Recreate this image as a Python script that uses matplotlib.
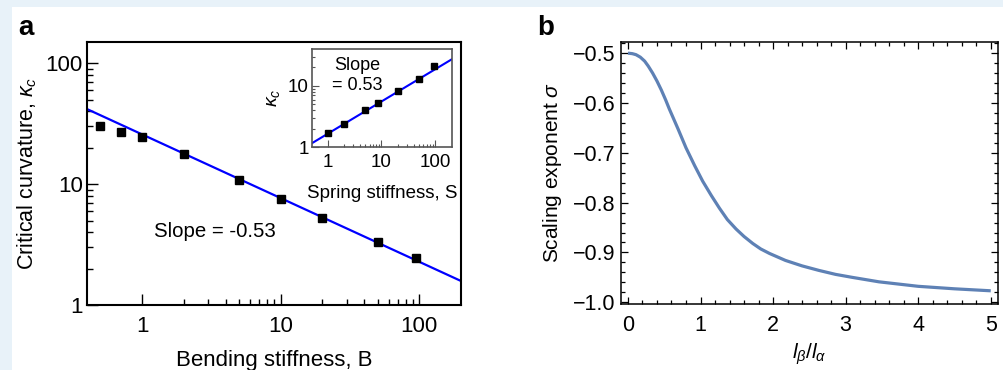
import matplotlib
matplotlib.use("Agg")
import matplotlib.pyplot as plt
from matplotlib.ticker import FixedLocator, NullFormatter, MultipleLocator, FixedFormatter
from matplotlib.patches import Rectangle

plt.rcParams['font.family'] = ['Liberation Sans', 'DejaVu Sans']
plt.rcParams['mathtext.fontset'] = 'custom'
plt.rcParams['mathtext.rm'] = 'Liberation Sans'
plt.rcParams['mathtext.it'] = 'Liberation Sans:italic'
plt.rcParams['mathtext.bf'] = 'Liberation Sans:bold'

# ---- data: panel a main ----
bend_B = [0.5, 0.7, 1, 2, 5, 10, 20, 50, 95]
bend_kc = [30.4, 27.1, 24.4, 17.8, 10.9, 7.55, 5.23, 3.33, 2.44]
fit_B = [0.4, 200]
fit_kc = [41.8, 1.58]

# ---- data: panel a inset ----
spring_S = [1, 2, 5, 8.6, 20, 50, 95]
spring_kc = [1.69, 2.37, 4.06, 5.22, 8.2, 13.2, 21.4]
fit_S = [0.5, 210]
fit_kcS = [1.16, 27.5]

# ---- data: panel b ----
ratio_l = [0, 0.06, 0.11, 0.17, 0.23, 0.28, 0.34, 0.40, 0.46, 0.52, 0.57, 0.69, 0.80,
           0.92, 1.03, 1.15, 1.26, 1.37, 1.49, 1.60, 1.72, 1.83, 1.95, 2.17, 2.40,
           2.63, 2.86, 3.09, 3.46, 4.0, 4.5, 5.0]
sigma = [-0.500, -0.501, -0.503, -0.508, -0.516, -0.526, -0.540, -0.556, -0.574,
         -0.594, -0.612, -0.652, -0.690, -0.726, -0.757, -0.786, -0.811, -0.834,
         -0.853, -0.868, -0.882, -0.893, -0.902, -0.916, -0.927, -0.936, -0.944,
         -0.950, -0.959, -0.968, -0.973, -0.977]

W, H = 1004, 370
fig = plt.figure(figsize=(W / 100, H / 100), dpi=100, facecolor='#e8f2f9')
fig.patches.append(Rectangle((12 / W, 0), 1 - 12 / W, 1 - 7 / H, transform=fig.transFigure,
                             facecolor='white', edgecolor='none', zorder=-10))

def fx(px):
    return px / W

def fy(py):
    return 1 - py / H

# ---------------- panel a ----------------
ax = fig.add_axes([fx(87), fy(305), fx(461) - fx(87), fy(42) - fy(305)])
ax.set_xscale('log')
ax.set_yscale('log')
ax.plot(fit_B, fit_kc, color='#0000ff', lw=1.6, zorder=2)
ax.plot(bend_B, bend_kc, 's', color='black', ms=6.3, zorder=3)
ax.set_xlim(0.4, 200)
ax.set_ylim(1, 150)
for s in ax.spines.values():
    s.set_linewidth(1.5)
ax.xaxis.set_major_locator(FixedLocator([1, 10, 100]))
ax.xaxis.set_major_formatter(FixedFormatter(['1', '10', '100']))
ax.xaxis.set_minor_locator(FixedLocator([m * 10 ** k for k in (0, 1) for m in range(2, 10)]))
ax.yaxis.set_major_locator(FixedLocator([1, 10, 100]))
ax.yaxis.set_major_formatter(FixedFormatter(['1', '10', '100']))
ax.yaxis.set_minor_locator(FixedLocator([m * 10 ** k for k in (0, 1) for m in range(2, 10)]))
ax.xaxis.set_minor_formatter(NullFormatter())
ax.yaxis.set_minor_formatter(NullFormatter())
ax.tick_params(which='both', direction='in', top=False, right=False, width=1.0, labelsize=16)
ax.tick_params(which='major', length=8)
ax.tick_params(which='minor', length=4)
ax.tick_params(axis='x', pad=8)
ax.tick_params(axis='y', pad=3)
ax.set_xlabel('Bending stiffness, B', fontsize=16, labelpad=9)
ax.set_ylabel(r'Critical curvature, $\kappa_c$', fontsize=15.5, labelpad=5)
ax.text(0.342, 0.278, 'Slope = -0.53', transform=ax.transAxes, fontsize=14.7,
        ha='center', va='center')

# inset
ins = fig.add_axes([fx(311.7), fy(147.3), fx(452.3) - fx(311.7), fy(49) - fy(147.3)])
ins.set_xscale('log')
ins.set_yscale('log')
ins.plot(fit_S, fit_kcS, color='#0000ff', lw=1.5, zorder=2)
ins.plot(spring_S, spring_kc, 's', color='black', ms=4.5, zorder=3)
ins.set_xlim(0.5, 210)
ins.set_ylim(1, 40)
for s in ins.spines.values():
    s.set_linewidth(1.2)
    s.set_color('#555555')
ins.xaxis.set_major_locator(FixedLocator([1, 10, 100]))
ins.xaxis.set_major_formatter(FixedFormatter(['1', '10', '100']))
ins.xaxis.set_minor_locator(FixedLocator([m * 10 ** k for k in (0, 1) for m in range(2, 10)]))
ins.yaxis.set_major_locator(FixedLocator([1, 10]))
ins.yaxis.set_major_formatter(FixedFormatter(['1', '10']))
ins.yaxis.set_minor_locator(FixedLocator([2, 3, 4, 5, 6, 7, 8, 9, 20, 30]))
ins.xaxis.set_minor_formatter(NullFormatter())
ins.yaxis.set_minor_formatter(NullFormatter())
ins.tick_params(which='both', direction='in', top=False, right=False, width=0.8,
                labelsize=13.5, color='#555555')
ins.tick_params(which='major', length=5)
ins.tick_params(which='minor', length=2.5)
ins.tick_params(axis='x', pad=5)
ins.tick_params(axis='y', pad=2)
ins.set_xlabel('Spring stiffness, S', fontsize=13.5, labelpad=10)
ins.set_ylabel(r'$\kappa_c$', fontsize=14, labelpad=4)
ins.text(0.322, 0.837, 'Slope', transform=ins.transAxes, fontsize=13, ha='center', va='center')
ins.text(0.322, 0.624, '= 0.53', transform=ins.transAxes, fontsize=13, ha='center', va='center')

fig.text(fx(18), fy(35), 'a', fontsize=20, fontweight='bold', ha='left', va='baseline')

# ---------------- panel b ----------------
bx = fig.add_axes([fx(620.7), fy(304), fx(998) - fx(620.7), fy(41.7) - fy(304)])
bx.plot(ratio_l, sigma, color='#5e81b5', lw=2.3, solid_joinstyle='round', solid_capstyle='butt')
bx.set_xlim(-0.1, 5.1)
bx.set_ylim(-1.0035, -0.477)
for s in bx.spines.values():
    s.set_linewidth(1.1)
bx.xaxis.set_major_locator(MultipleLocator(1))
bx.xaxis.set_minor_locator(MultipleLocator(0.2))
bx.yaxis.set_major_locator(MultipleLocator(0.1))
bx.yaxis.set_minor_locator(MultipleLocator(0.02))
bx.yaxis.set_major_formatter(matplotlib.ticker.FuncFormatter(lambda v, p: f'{v:.1f}'.replace('-', '\u2212')))
bx.tick_params(which='both', direction='in', top=True, right=True, width=0.9, labelsize=15.5)
bx.tick_params(which='major', length=5)
bx.tick_params(which='minor', length=3)
bx.tick_params(axis='x', pad=8)
bx.tick_params(axis='y', pad=4)
bx.set_xlabel(r'$l_\beta/l_\alpha$', fontsize=15, labelpad=4)
bx.set_ylabel(r'Scaling exponent $\sigma$', fontsize=15, labelpad=6)

fig.text(fx(537), fy(35), 'b', fontsize=20, fontweight='bold', ha='left', va='baseline')

fig.savefig('out.png', dpi=100, facecolor=fig.get_facecolor())
